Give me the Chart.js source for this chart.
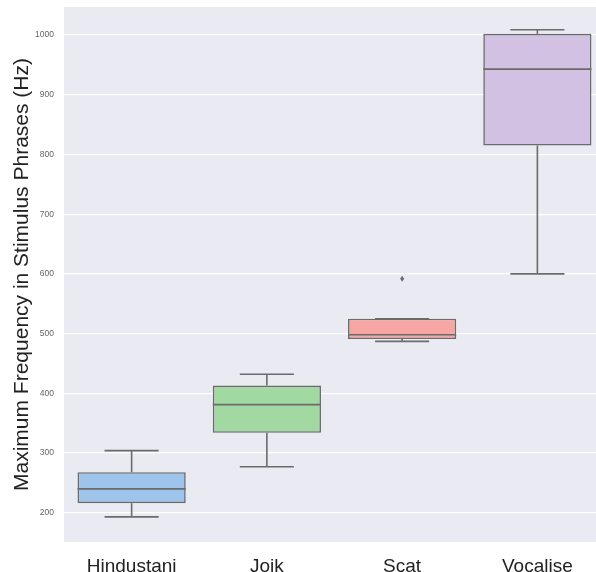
<!DOCTYPE html>
<html>
<head>
<meta charset="utf-8">
<script src="https://cdn.jsdelivr.net/npm/chart.js@4"></script>
<style>
  html, body { margin: 0; padding: 0; background: #fff; overflow: hidden; }
  #wrap { width: 612px; height: 572px; }
</style>
</head>
<body>
<div id="wrap"><canvas id="boxChart"></canvas></div>
<script>
const categories = ["Hindustani", "Joik", "Scat", "Vocalise"];
const whiskerLow = [193, 277, 487, 600];
const q1 = [216, 334, 491, 815];
const median = [240, 381, 498, 943];
const q3 = [268, 413, 525, 1002];
const whiskerHigh = [304, 432, 525, 1009];
const outliers = [[], [], [592], []];
const yTicks = [200, 300, 400, 500, 600, 700, 800, 900, 1000];
const boxColors = ["#9fc4ec", "#a2d9a2", "#f6a7a4", "#d2c1e2"];
const edge = "#6b6b6b";

const plotBg = {
  id: "plotBg",
  beforeDraw(chart) {
    const { ctx, chartArea: a } = chart;
    ctx.save();
    ctx.fillStyle = "#eaeaf2";
    ctx.fillRect(a.left, a.top, a.right - a.left, a.bottom - a.top);
    ctx.restore();
  }
};

const boxParts = {
  id: "boxParts",
  afterDatasetsDraw(chart) {
    const { ctx } = chart;
    const y = chart.scales.y;
    const bars = chart.getDatasetMeta(0).data;
    ctx.save();
    ctx.strokeStyle = edge;
    ctx.lineWidth = 1.6;
    bars.forEach((bar, i) => {
      const x = bar.x, half = bar.width / 2, cap = bar.width / 4;
      const line = (x1, y1, x2, y2) => {
        ctx.beginPath(); ctx.moveTo(x1, y1); ctx.lineTo(x2, y2); ctx.stroke();
      };
      // whiskers
      line(x, y.getPixelForValue(q1[i]), x, y.getPixelForValue(whiskerLow[i]));
      line(x, y.getPixelForValue(q3[i]), x, y.getPixelForValue(whiskerHigh[i]));
      // caps
      line(x - cap, y.getPixelForValue(whiskerLow[i]), x + cap, y.getPixelForValue(whiskerLow[i]));
      line(x - cap, y.getPixelForValue(whiskerHigh[i]), x + cap, y.getPixelForValue(whiskerHigh[i]));
      // median
      line(x - half, y.getPixelForValue(median[i]), x + half, y.getPixelForValue(median[i]));
      // fliers
      outliers[i].forEach(v => {
        const py = y.getPixelForValue(v);
        ctx.fillStyle = edge;
        ctx.beginPath();
        ctx.moveTo(x, py - 3); ctx.lineTo(x + 2, py); ctx.lineTo(x, py + 3); ctx.lineTo(x - 2, py);
        ctx.closePath(); ctx.fill();
      });
    });
    ctx.restore();
  }
};

new Chart(document.getElementById("boxChart"), {
  type: "bar",
  data: {
    labels: categories,
    datasets: [{
      data: categories.map((c, i) => [q1[i], q3[i]]),
      backgroundColor: boxColors,
      borderColor: edge,
      borderWidth: 1.6,
      borderSkipped: false,
      barPercentage: 0.8,
      categoryPercentage: 1
    }]
  },
  options: {
    responsive: true,
    maintainAspectRatio: false,
    animation: false,
    layout: { padding: { top: 7, right: 7, left: 0, bottom: 0 } },
    plugins: { legend: { display: false }, tooltip: { enabled: false } },
    scales: {
      x: {
        grid: { display: false },
        border: { display: false },
        ticks: { color: "#222", padding: 5, font: { family: "Liberation Sans, Arial", size: 19 } },
        afterFit(s) { s.height = 30; s.paddingLeft = 0; s.paddingRight = 0; }
      },
      y: {
        min: 151,
        max: 1047,
        grid: { color: "#ffffff", lineWidth: 1.2, drawTicks: false },
        border: { display: false },
        ticks: {
          color: "#666", padding: 10,
          font: { family: "Liberation Sans, Arial", size: 8.5 },
          callback: v => String(v)
        },
        afterBuildTicks(s) { s.ticks = yTicks.map(v => ({ value: v })); },
        afterFit(s) { s.width = 64; s.paddingTop = 0; s.paddingBottom = 0; },
        title: {
          display: true,
          text: "Maximum Frequency in Stimulus Phrases (Hz)",
          color: "#222",
          padding: { top: 10, bottom: 0 },
          font: { family: "Liberation Sans, Arial", size: 21 }
        }
      }
    }
  },
  plugins: [plotBg, boxParts]
});
</script>
</body>
</html>
